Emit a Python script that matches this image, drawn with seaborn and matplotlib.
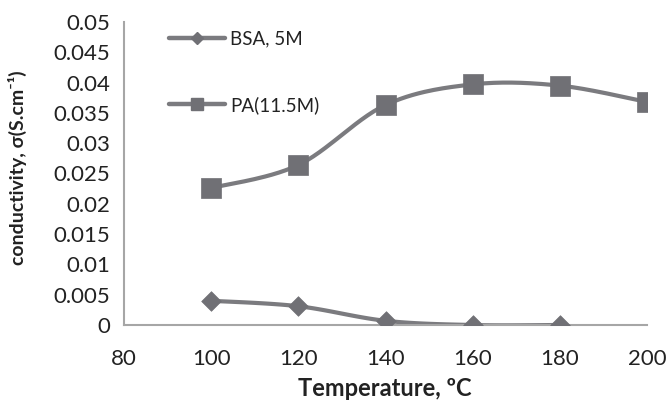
import numpy as np
import pandas as pd
import matplotlib
matplotlib.use("Agg")
import matplotlib.pyplot as plt
from matplotlib.lines import Line2D
import seaborn as sns

# ---- data ----
bsa_temp = [100, 120, 140, 160, 180]
bsa_cond = [0.0040, 0.0031, 0.0007, 0.0000, 0.0000]
pa_temp = [100, 120, 140, 160, 180, 200]
pa_cond = [0.0226, 0.0264, 0.0363, 0.0397, 0.0395, 0.0368]
series_names = ["BSA, 5M", "PA(11.5M)"]
x_ticks = [80, 100, 120, 140, 160, 180, 200]
y_ticks = [0, 0.005, 0.01, 0.015, 0.02, 0.025, 0.03, 0.035, 0.04, 0.045, 0.05]
y_tick_labels = ["0", "0.005", "0.01", "0.015", "0.02", "0.025", "0.03",
                 "0.035", "0.04", "0.045", "0.05"]

sns.set_theme(style="white")
plt.rcParams["font.family"] = ["Lato", "DejaVu Sans"]

LINE_C = "#7b7b7f"
MARK_C = "#707075"
AX_C = "#a6a6a6"
TXT_C = "#222222"


def smooth(xs, ys, n=30):
    """Excel-style smoothed line (Bezier with Catmull-Rom control points)."""
    P = np.column_stack([xs, ys]).astype(float)
    out = []
    for i in range(len(P) - 1):
        p0 = P[i - 1] if i > 0 else P[i]
        p1, p2 = P[i], P[i + 1]
        p3 = P[i + 2] if i + 2 < len(P) else P[i + 1]
        c1 = p1 + (p2 - p0) / 6.0
        c2 = p2 - (p3 - p1) / 6.0
        t = np.linspace(0, 1, n)[:, None]
        seg = ((1 - t) ** 3) * p1 + 3 * ((1 - t) ** 2) * t * c1 + 3 * (1 - t) * t ** 2 * c2 + t ** 3 * p2
        out.append(seg if i == 0 else seg[1:])
    s = np.vstack(out)
    return s[:, 0], s[:, 1]


fig = plt.figure(figsize=(6.68, 4.03), dpi=100)
ax = fig.add_axes([0.1856, 0.1935, 0.783, 0.752])

for xs, ys, mk, ms, name in [
    (bsa_temp, bsa_cond, "D", 10, series_names[0]),
    (pa_temp, pa_cond, "s", 14.5, series_names[1]),
]:
    sx, sy = smooth(xs, ys)
    sns.lineplot(x=sx, y=sy, ax=ax, sort=False, color=LINE_C, lw=3.0,
                 estimator=None, legend=False)
    sns.scatterplot(x=xs, y=ys, ax=ax, marker=mk, s=ms ** 2, color=MARK_C,
                    edgecolor=MARK_C, linewidth=0.5, zorder=5, legend=False)

ax.set_xlim(80, 200)
ax.set_ylim(0, 0.05)
ax.set_xticks(x_ticks)
ax.set_yticks(y_ticks)
ax.set_yticklabels(y_tick_labels)
ax.tick_params(axis="both", labelsize=16, colors=TXT_C, length=6,
               width=1.2, direction="out", color=AX_C, pad=4)
ax.tick_params(axis="x", pad=11)
for sp in ["top", "right"]:
    ax.spines[sp].set_visible(False)
for sp in ["left", "bottom"]:
    ax.spines[sp].set_color(AX_C)
    ax.spines[sp].set_linewidth(1.5)
ax.grid(False)

ax.set_xlabel("Temperature, ºC", fontsize=17, fontweight="bold", color=TXT_C)
ax.xaxis.set_label_coords(0.499, -0.172)
ax.set_ylabel("conductivity, σ(S.cm⁻¹)", fontsize=14, fontweight="bold",
              color=TXT_C)
ax.yaxis.set_label_coords(-0.186, 0.518)

handles = [
    Line2D([0], [0], color=LINE_C, lw=3.2, marker="D", markersize=6,
           markerfacecolor=MARK_C, markeredgecolor=MARK_C),
    Line2D([0], [0], color=LINE_C, lw=3.2, marker="s", markersize=9,
           markerfacecolor=MARK_C, markeredgecolor=MARK_C),
]
leg = ax.legend(handles, series_names, loc="upper left",
                bbox_to_anchor=(0.2275, 0.967), bbox_transform=fig.transFigure,
                frameon=False, fontsize=13.5, handlelength=3.0, handletextpad=0.25,
                labelspacing=2.6, labelcolor=TXT_C)

fig.savefig("out.png", dpi=100)
